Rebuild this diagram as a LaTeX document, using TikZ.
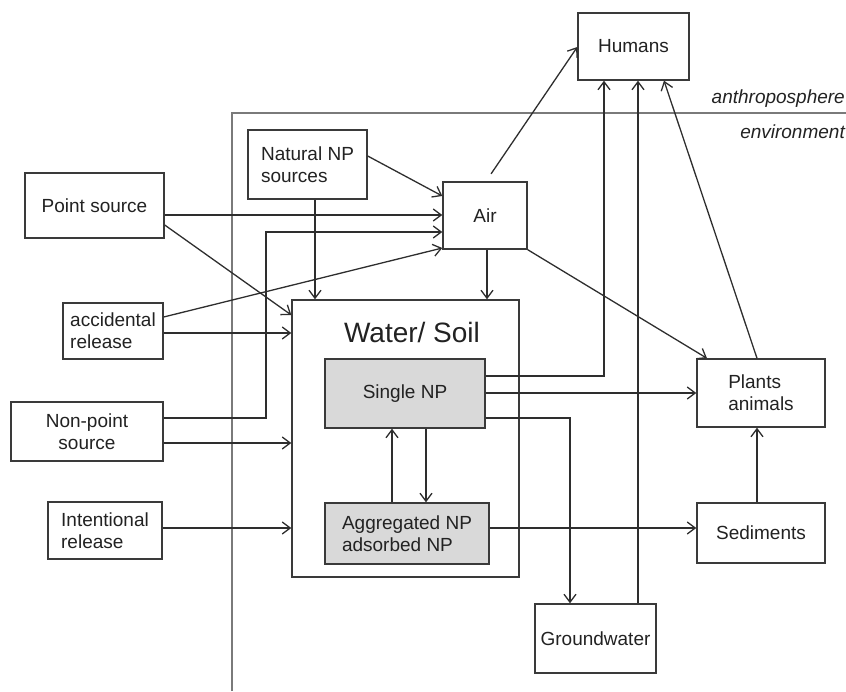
\documentclass[tikz,border=0pt]{standalone}
\usepackage{fontspec}
\setmainfont{Liberation Sans}
\usetikzlibrary{arrows.meta}
\definecolor{boxc}{HTML}{3A3A3A}
\definecolor{linec}{HTML}{2E2E2E}
\definecolor{envc}{HTML}{7A7A7A}
\definecolor{npgray}{HTML}{D9D9D9}
\definecolor{txt}{HTML}{222222}
\begin{document}
\begin{tikzpicture}[x=1pt,y=-1pt,
  box/.style={draw=boxc, line width=1.4pt, fill=white, inner sep=0pt,
    font=\fontsize{19}{22}\selectfont, text=txt},
  gbox/.style={box, fill=npgray},
  conn/.style={draw=linec, line width=1.3pt,
    -{Straight Barb[length=8pt,width=12pt,line width=1.3pt]}},
  envline/.style={draw=envc, line width=1.6pt},
  envlabel/.style={font=\fontsize{19}{22}\selectfont\itshape, text=txt, inner sep=0pt, anchor=east}
]
\useasboundingbox (0,0) rectangle (846,691);

% environment frame
\coordinate (envtop) at (232,113);
\coordinate (envbot) at (232,691);
\coordinate (envright) at (846,113);
\draw[envline] (envbot) -- (envtop) -- (envright);
\node[envlabel] (anthro) at (845,99) {anthroposphere};
\node[envlabel] (envir) at (845,132) {environment};

% nodes
\node[box, minimum width=111, minimum height=67] (hum) at (633.5,46.5) {Humans};
\node[box, minimum width=119, minimum height=69, align=left] (nat) at (307.5,164.5) {Natural NP\\sources};
\node[box, minimum width=139, minimum height=65] (pts) at (94.5,205.5) {Point source};
\node[box, minimum width=84, minimum height=67] (air) at (485,215.5) {Air};
\node[box, minimum width=100, minimum height=56, align=left] (acc) at (113,331) {accidental\\release};
\node[box, minimum width=152, minimum height=59, align=center] (nps) at (87,431.5) {Non-point\\source};
\node[box, minimum width=114, minimum height=57, align=left] (int) at (105,530.5) {Intentional\\release};
\node[box, minimum width=227, minimum height=277] (ws) at (405.5,438.5) {};
\node[font=\fontsize{28}{32}\selectfont, text=txt, inner sep=0pt] (wstitle) at (412,332) {Water/ Soil};
\node[gbox, minimum width=160, minimum height=69] (sgl) at (405,393.5) {Single NP};
\node[gbox, minimum width=164, minimum height=61, align=left] (agg) at (407,533.5) {Aggregated NP\\adsorbed NP};
\node[box, minimum width=128, minimum height=68, align=left] (pla) at (761,393) {Plants\\animals};
\node[box, minimum width=128, minimum height=60] (sed) at (761,533) {Sediments};
\node[box, minimum width=121, minimum height=69] (gw) at (595.5,638.5) {Groundwater};

% connectors into Air
\draw[conn] (nat.east |- 0,156) -- (air.west |- 0,196);
\draw[conn] (pts.east |- 0,215) -- (air.west |- 0,215);
\draw[conn] (nps.east |- 0,418) -| (266,232) -- (air.west |- 0,232);
\draw[conn] (acc.east |- 0,317) -- (air.west |- 0,248);

% connectors into Water/Soil
\draw[conn] (pts.east |- 0,225) -- (ws.west |- 0,315);
\draw[conn] (acc.east |- 0,333) -- (ws.west |- 0,333);
\draw[conn] (nat.south -| 315,0) -- (ws.north -| 315,0);
\draw[conn] (nps.east |- 0,443) -- (ws.west |- 0,443);
\draw[conn] (int.east |- 0,528) -- (ws.west |- 0,528);
\draw[conn] (air.south -| 487,0) -- (ws.north -| 487,0);

% from Air
\draw[conn, shorten <=9pt] (air.north -| 486,0) -- (hum.west |- 0,47);
\draw[conn] (air.south east) -- (pla.north west -| 707,0);

% from Single NP
\draw[conn] (sgl.east |- 0,376) -| (hum.south -| 604,0);
\draw[conn] (sgl.east |- 0,393) -- (pla.west |- 0,393);
\draw[conn] (sgl.east |- 0,418) -| (gw.north -| 570,0);
\draw[conn] (sgl.south -| 426,0) -- (agg.north -| 426,0);
\draw[conn] (agg.north -| 392,0) -- (sgl.south -| 392,0);

% others
\draw[conn] (gw.north -| 638,0) -- (hum.south -| 638,0);
\draw[conn] (pla.north -| 757,0) -- (hum.south -| 664,0);
\draw[conn] (sed.north -| 757,0) -- (pla.south -| 757,0);
\draw[conn] (agg.east |- 0,528) -- (sed.west |- 0,528);
\end{tikzpicture}
\end{document}
